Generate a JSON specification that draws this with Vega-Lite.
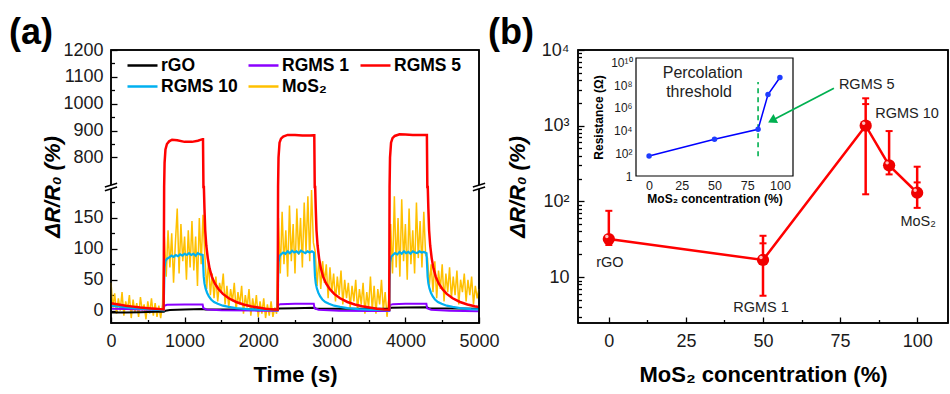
{
  "$schema": "https://vega.github.io/schema/vega-lite/v6.json",
  "background": "white",
  "padding": {"left": 8, "top": 14, "right": 3, "bottom": 5},
  "bounds": "flush",
  "spacing": 99,
  "resolve": {"scale": {"color": "independent"}, "legend": {"color": "independent"}},
  "datasets": {
    "rgo": [{"t":0,"v":-3},{"t":200,"v":-3},{"t":400,"v":-2.5},{"t":600,"v":-2},{"t":718,"v":-2},{"t":740,"v":0},{"t":800,"v":1},{"t":1000,"v":2},{"t":1250,"v":2.5},{"t":1280,"v":2},{"t":1500,"v":2},{"t":2000,"v":2},{"t":2265,"v":2},{"t":2285,"v":3.5},{"t":2500,"v":4},{"t":2760,"v":4.5},{"t":2790,"v":3},{"t":3200,"v":3},{"t":3783,"v":3},{"t":3805,"v":4.5},{"t":4000,"v":5},{"t":4290,"v":5.5},{"t":4320,"v":4},{"t":4700,"v":3.5},{"t":5000,"v":3}],
    "rgms1": [{"t":0,"v":3},{"t":200,"v":2.5},{"t":400,"v":2},{"t":600,"v":1.5},{"t":715,"v":1},{"t":725,"v":8},{"t":760,"v":9.5},{"t":1000,"v":10},{"t":1245,"v":10},{"t":1255,"v":4},{"t":1300,"v":2},{"t":1500,"v":0.5},{"t":2000,"v":0},{"t":2262,"v":0},{"t":2272,"v":9},{"t":2300,"v":10.5},{"t":2500,"v":11},{"t":2755,"v":11},{"t":2765,"v":4},{"t":2820,"v":1.5},{"t":3100,"v":0},{"t":3500,"v":-0.5},{"t":3782,"v":-0.5},{"t":3792,"v":9},{"t":3830,"v":10.5},{"t":4000,"v":11},{"t":4285,"v":11},{"t":4295,"v":4},{"t":4350,"v":1.5},{"t":4600,"v":0},{"t":5000,"v":-1}],
    "rgms5": [{"t":0,"v":12},{"t":100,"v":10},{"t":200,"v":8},{"t":300,"v":6.5},{"t":400,"v":5},{"t":500,"v":4},{"t":600,"v":3},{"t":715,"v":2},{"t":722,"v":400},{"t":728,"v":780},{"t":740,"v":830},{"t":760,"v":850},{"t":790,"v":860},{"t":830,"v":866},{"t":900,"v":864},{"t":1000,"v":858},{"t":1100,"v":858},{"t":1180,"v":862},{"t":1245,"v":868},{"t":1250,"v":868},{"t":1256,"v":500},{"t":1262,"v":230},{"t":1270,"v":165},{"t":1280,"v":130},{"t":1295,"v":105},{"t":1315,"v":85},{"t":1340,"v":68},{"t":1370,"v":55},{"t":1410,"v":44},{"t":1460,"v":35},{"t":1520,"v":27},{"t":1600,"v":20},{"t":1700,"v":14},{"t":1800,"v":10},{"t":1900,"v":7},{"t":2000,"v":5},{"t":2100,"v":3},{"t":2200,"v":2},{"t":2265,"v":1.5},{"t":2270,"v":400},{"t":2276,"v":800},{"t":2290,"v":855},{"t":2310,"v":870},{"t":2340,"v":878},{"t":2400,"v":884},{"t":2500,"v":884},{"t":2600,"v":882},{"t":2700,"v":882},{"t":2755,"v":883},{"t":2762,"v":883},{"t":2768,"v":500},{"t":2774,"v":230},{"t":2782,"v":165},{"t":2792,"v":130},{"t":2807,"v":105},{"t":2827,"v":85},{"t":2852,"v":68},{"t":2882,"v":55},{"t":2922,"v":44},{"t":2972,"v":35},{"t":3032,"v":27},{"t":3112,"v":20},{"t":3212,"v":14},{"t":3312,"v":10},{"t":3412,"v":7},{"t":3512,"v":5},{"t":3612,"v":3},{"t":3712,"v":2},{"t":3780,"v":1.5},{"t":3785,"v":400},{"t":3791,"v":800},{"t":3805,"v":855},{"t":3825,"v":872},{"t":3855,"v":880},{"t":3920,"v":886},{"t":4000,"v":885},{"t":4100,"v":884},{"t":4200,"v":884},{"t":4285,"v":884},{"t":4292,"v":884},{"t":4298,"v":500},{"t":4304,"v":230},{"t":4312,"v":165},{"t":4322,"v":130},{"t":4337,"v":105},{"t":4357,"v":85},{"t":4382,"v":68},{"t":4412,"v":55},{"t":4452,"v":44},{"t":4502,"v":35},{"t":4562,"v":27},{"t":4642,"v":20},{"t":4742,"v":14},{"t":4842,"v":10},{"t":4942,"v":7},{"t":5000,"v":6}],
    "rgms10": [{"t":0,"v":8},{"t":150,"v":6},{"t":300,"v":4},{"t":450,"v":3},{"t":600,"v":1.5},{"t":715,"v":0.5},{"t":722,"v":40},{"t":728,"v":70},{"t":740,"v":80},{"t":760,"v":84},{"t":790,"v":86},{"t":820,"v":89},{"t":850,"v":87},{"t":880,"v":90},{"t":910,"v":88},{"t":940,"v":91},{"t":970,"v":89},{"t":1000,"v":92},{"t":1030,"v":90},{"t":1060,"v":93},{"t":1090,"v":90},{"t":1120,"v":92},{"t":1150,"v":89},{"t":1180,"v":93},{"t":1210,"v":91},{"t":1245,"v":90},{"t":1252,"v":75},{"t":1260,"v":55},{"t":1270,"v":44},{"t":1285,"v":36},{"t":1305,"v":29},{"t":1330,"v":23},{"t":1360,"v":18},{"t":1400,"v":14},{"t":1450,"v":11},{"t":1520,"v":8},{"t":1600,"v":6},{"t":1700,"v":4},{"t":1850,"v":2.5},{"t":2000,"v":1.5},{"t":2150,"v":1},{"t":2265,"v":0.5},{"t":2270,"v":50},{"t":2276,"v":78},{"t":2290,"v":88},{"t":2310,"v":91},{"t":2340,"v":94},{"t":2370,"v":92},{"t":2400,"v":96},{"t":2430,"v":93},{"t":2460,"v":97},{"t":2490,"v":94},{"t":2520,"v":96},{"t":2550,"v":93},{"t":2580,"v":97},{"t":2610,"v":95},{"t":2640,"v":93},{"t":2670,"v":96},{"t":2700,"v":94},{"t":2730,"v":96},{"t":2757,"v":94},{"t":2764,"v":75},{"t":2772,"v":55},{"t":2782,"v":44},{"t":2797,"v":36},{"t":2817,"v":29},{"t":2842,"v":23},{"t":2872,"v":18},{"t":2912,"v":14},{"t":2962,"v":11},{"t":3032,"v":8},{"t":3112,"v":6},{"t":3212,"v":4},{"t":3362,"v":2.5},{"t":3512,"v":1.5},{"t":3662,"v":1},{"t":3782,"v":0.5},{"t":3787,"v":50},{"t":3793,"v":78},{"t":3807,"v":87},{"t":3830,"v":90},{"t":3860,"v":93},{"t":3890,"v":91},{"t":3920,"v":95},{"t":3950,"v":92},{"t":3980,"v":96},{"t":4010,"v":93},{"t":4040,"v":95},{"t":4070,"v":92},{"t":4100,"v":96},{"t":4130,"v":94},{"t":4160,"v":93},{"t":4190,"v":96},{"t":4220,"v":94},{"t":4250,"v":95},{"t":4287,"v":93},{"t":4294,"v":75},{"t":4302,"v":55},{"t":4312,"v":44},{"t":4327,"v":36},{"t":4347,"v":29},{"t":4372,"v":23},{"t":4402,"v":18},{"t":4442,"v":14},{"t":4492,"v":11},{"t":4562,"v":8},{"t":4642,"v":6},{"t":4742,"v":4},{"t":4892,"v":2.5},{"t":5000,"v":2}],
    "mos2": [{"t":0,"v":45},{"t":25,"v":5},{"t":50,"v":28},{"t":75,"v":-5},{"t":100,"v":20},{"t":125,"v":0},{"t":150,"v":30},{"t":175,"v":-8},{"t":200,"v":15},{"t":225,"v":2},{"t":250,"v":25},{"t":275,"v":-12},{"t":300,"v":18},{"t":325,"v":-3},{"t":350,"v":12},{"t":375,"v":-10},{"t":400,"v":22},{"t":425,"v":0},{"t":450,"v":10},{"t":475,"v":-14},{"t":500,"v":15},{"t":525,"v":-5},{"t":550,"v":20},{"t":575,"v":-8},{"t":600,"v":12},{"t":625,"v":-10},{"t":650,"v":8},{"t":675,"v":-12},{"t":700,"v":10},
      {"t":725,"v":120},{"t":750,"v":55},{"t":775,"v":130},{"t":800,"v":70},{"t":825,"v":125},{"t":850,"v":45},{"t":875,"v":110},{"t":900,"v":165},{"t":925,"v":60},{"t":950,"v":140},{"t":975,"v":80},{"t":1000,"v":120},{"t":1025,"v":50},{"t":1050,"v":130},{"t":1075,"v":70},{"t":1100,"v":145},{"t":1125,"v":65},{"t":1150,"v":120},{"t":1175,"v":40},{"t":1200,"v":150},{"t":1225,"v":75},{"t":1250,"v":155},
      {"t":1275,"v":90},{"t":1300,"v":35},{"t":1325,"v":80},{"t":1350,"v":25},{"t":1375,"v":60},{"t":1400,"v":20},{"t":1425,"v":55},{"t":1450,"v":15},{"t":1475,"v":45},{"t":1500,"v":30},{"t":1525,"v":60},{"t":1550,"v":10},{"t":1575,"v":40},{"t":1600,"v":5},{"t":1625,"v":35},{"t":1650,"v":15},{"t":1675,"v":45},{"t":1700,"v":0},{"t":1725,"v":30},{"t":1750,"v":10},{"t":1775,"v":40},{"t":1800,"v":-5},{"t":1825,"v":25},{"t":1850,"v":5},{"t":1875,"v":35},{"t":1900,"v":-8},{"t":1925,"v":20},{"t":1950,"v":0},{"t":1975,"v":25},{"t":2000,"v":-10},{"t":2025,"v":15},{"t":2050,"v":-5},{"t":2075,"v":20},{"t":2100,"v":-12},{"t":2125,"v":10},{"t":2150,"v":-8},{"t":2175,"v":15},{"t":2200,"v":-10},{"t":2225,"v":5},{"t":2250,"v":-5},
      {"t":2275,"v":150},{"t":2300,"v":60},{"t":2325,"v":160},{"t":2350,"v":75},{"t":2375,"v":130},{"t":2400,"v":55},{"t":2425,"v":170},{"t":2450,"v":80},{"t":2475,"v":140},{"t":2500,"v":60},{"t":2525,"v":165},{"t":2550,"v":90},{"t":2575,"v":150},{"t":2600,"v":70},{"t":2625,"v":175},{"t":2650,"v":95},{"t":2675,"v":185},{"t":2700,"v":80},{"t":2725,"v":195},{"t":2750,"v":110},
      {"t":2775,"v":95},{"t":2800,"v":40},{"t":2825,"v":85},{"t":2850,"v":35},{"t":2875,"v":80},{"t":2900,"v":45},{"t":2925,"v":75},{"t":2950,"v":20},{"t":2975,"v":70},{"t":3000,"v":30},{"t":3025,"v":60},{"t":3050,"v":15},{"t":3075,"v":55},{"t":3100,"v":25},{"t":3125,"v":65},{"t":3150,"v":10},{"t":3175,"v":50},{"t":3200,"v":20},{"t":3225,"v":45},{"t":3250,"v":5},{"t":3275,"v":40},{"t":3300,"v":15},{"t":3325,"v":50},{"t":3350,"v":0},{"t":3375,"v":35},{"t":3400,"v":10},{"t":3425,"v":45},{"t":3450,"v":-5},{"t":3475,"v":30},{"t":3500,"v":5},{"t":3525,"v":55},{"t":3550,"v":0},{"t":3575,"v":40},{"t":3600,"v":-5},{"t":3625,"v":35},{"t":3650,"v":10},{"t":3675,"v":50},{"t":3700,"v":0},{"t":3725,"v":30},{"t":3750,"v":-10},{"t":3775,"v":20},
      {"t":3800,"v":140},{"t":3825,"v":60},{"t":3850,"v":185},{"t":3875,"v":70},{"t":3900,"v":150},{"t":3925,"v":55},{"t":3950,"v":180},{"t":3975,"v":80},{"t":4000,"v":140},{"t":4025,"v":50},{"t":4050,"v":165},{"t":4075,"v":75},{"t":4100,"v":130},{"t":4125,"v":60},{"t":4150,"v":175},{"t":4175,"v":85},{"t":4200,"v":145},{"t":4225,"v":70},{"t":4250,"v":160},{"t":4275,"v":90},
      {"t":4300,"v":85},{"t":4325,"v":40},{"t":4350,"v":75},{"t":4375,"v":30},{"t":4400,"v":80},{"t":4425,"v":20},{"t":4450,"v":65},{"t":4475,"v":35},{"t":4500,"v":75},{"t":4525,"v":15},{"t":4550,"v":60},{"t":4575,"v":30},{"t":4600,"v":70},{"t":4625,"v":20},{"t":4650,"v":55},{"t":4675,"v":25},{"t":4700,"v":65},{"t":4725,"v":10},{"t":4750,"v":50},{"t":4775,"v":30},{"t":4800,"v":60},{"t":4825,"v":15},{"t":4850,"v":50},{"t":4875,"v":25},{"t":4900,"v":55},{"t":4925,"v":10},{"t":4950,"v":40},{"t":4975,"v":20},{"t":5000,"v":35}],
    "pts": [
      {"name":"rGO","c":0,"y":31.8,"lo":26.5,"hi":75},
      {"name":"RGMS 1","c":50,"y":16.8,"lo":5.66,"hi":35.1,"hi2":27.9},
      {"name":"RGMS 5","c":83.3,"y":1000,"lo":124,"hi":2300,"hi2":1930},
      {"name":"RGMS 10","c":90.9,"y":299,"lo":227,"hi":849},
      {"name":"MoS₂","c":100,"y":130,"lo":82,"hi":287,"hi2":178}
    ],
    "res": [
      {"c":0,"r":58},
      {"c":50,"r":1740},
      {"c":83.3,"r":13000},
      {"c":90.9,"r":15000000},
      {"c":100,"r":480000000}
    ]
  },
  "hconcat": [
    {
      "width": 368,
      "height": 273,
      "view": {"stroke": "#000", "strokeWidth": 1.5},
      "title": {"text": "(a)", "anchor": "start", "frame": "group", "dx": -102, "dy": 47, "offset": 0, "baseline": "bottom", "fontSize": 36, "fontWeight": "bold", "font": "Liberation Sans", "color": "#000"},
      "encoding": {
        "x": {"field": "t", "type": "quantitative", "scale": {"domain": [0, 5000], "nice": false, "zero": false}, "axis": null},
        "y": {"field": "v", "type": "quantitative", "scale": {"domain": [-20, 200, 690, 1200], "range": [273, 137, 137, 0], "nice": false, "zero": false}, "axis": null}
      },
      "layer": [
        {
          "data": {"name": "mos2"},
          "mark": {"type": "line", "strokeWidth": 1.5},
          "encoding": {
            "x": {"field": "t", "type": "quantitative", "scale": {"domain": [0, 5000], "nice": false, "zero": false},
              "axis": {"orient": "bottom", "values": [0, 1000, 2000, 3000, 4000, 5000], "format": "d", "title": "Time (s)", "titlePadding": 14, "labelPadding": 15, "tickSize": -6}},
            "y": {"field": "v", "type": "quantitative", "scale": {"domain": [-20, 200, 690, 1200], "range": [273, 137, 137, 0], "nice": false, "zero": false},
              "axis": {"orient": "left", "values": [0, 50, 100, 150, 800, 900, 1000, 1100, 1200], "format": "d", "title": "ΔR/R₀ (%)", "titleFontStyle": "italic", "titlePadding": -2, "labelPadding": 14, "tickSize": -6}},
            "color": {"datum": "MoS₂", "type": "nominal",
              "scale": {"domain": ["rGO", "RGMS 10", "RGMS 1", "MoS₂", "RGMS 5"], "range": ["#000000", "#00B0F0", "#8B00FF", "#FFC000", "#FF0000"]},
              "legend": {"title": null, "orient": "none", "legendX": 15, "legendY": 7, "columns": 3, "gridAlign": "each", "columnPadding": 9, "rowPadding": 3, "clipHeight": 17, "symbolType": "stroke", "symbolSize": 900, "symbolStrokeWidth": 2.5, "labelFont": "Liberation Sans", "labelFontSize": 17.5, "labelFontWeight": "bold", "labelColor": "#000", "labelOffset": 2, "padding": 0, "labelLimit": 200}}
          }
        },
        {
          "data": {"name": "rgo"},
          "mark": {"type": "line", "strokeWidth": 2},
          "encoding": {
            "x": {"field": "t", "type": "quantitative", "scale": {"domain": [0, 5000], "nice": false, "zero": false},
              "axis": {"orient": "bottom", "values": [500, 1500, 2500, 3500, 4500], "labels": false, "title": null, "tickSize": -3.5}},
            "y": {"field": "v", "type": "quantitative", "scale": {"domain": [-20, 200, 690, 1200], "range": [273, 137, 137, 0], "nice": false, "zero": false},
              "axis": {"orient": "left", "values": [25, 75, 125, 175, 850, 950, 1050, 1150], "labels": false, "title": null, "tickSize": -3.5}},
            "color": {"datum": "rGO", "type": "nominal"}
          }
        },
        {
          "data": {"name": "rgms1"},
          "mark": {"type": "line", "strokeWidth": 2},
          "encoding": {"color": {"datum": "RGMS 1", "type": "nominal"}}
        },
        {
          "data": {"name": "rgms10"},
          "mark": {"type": "line", "strokeWidth": 2.2},
          "encoding": {"color": {"datum": "RGMS 10", "type": "nominal"}}
        },
        {
          "data": {"name": "rgms5"},
          "mark": {"type": "line", "strokeWidth": 2.5},
          "encoding": {"color": {"datum": "RGMS 5", "type": "nominal"}}
        },
        {
          "data": {"values": [{"t": 0, "t2": 5000, "v": -20, "v2": 1200}]},
          "mark": {"type": "rect", "fill": "transparent", "stroke": "#000", "strokeWidth": 1.5},
          "encoding": {"x2": {"field": "t2"}, "y2": {"field": "v2"}}
        },
        {
          "data": {"values": [{"t": 0, "v": 445}, {"t": 5000, "v": 445}]},
          "mark": {"type": "point", "shape": "M-1,0L1,-0.6L1,0L-1,0.6Z", "filled": true, "fill": "white", "strokeWidth": 0, "size": 150, "opacity": 1}
        },
        {
          "data": {"values": [{"t": 0, "v": 445}, {"t": 5000, "v": 445}]},
          "mark": {"type": "point", "shape": "M-1,0L1,-0.6M-1,0.6L1,0", "filled": false, "stroke": "#000", "strokeWidth": 1.5, "size": 150, "opacity": 1}
        }
      ],
      "resolve": {"scale": {"x": "independent", "y": "independent"}}
    },
    {
      "width": 370,
      "height": 273,
      "view": {"stroke": "#000", "strokeWidth": 1.5},
      "title": {"text": "(b)", "anchor": "start", "frame": "group", "dx": -90, "dy": 47, "offset": 0, "baseline": "bottom", "fontSize": 36, "fontWeight": "bold", "font": "Liberation Sans", "color": "#000"},
      "encoding": {
        "x": {"field": "c", "type": "quantitative", "scale": {"domain": [-10, 110], "nice": false, "zero": false}, "axis": null},
        "y": {"field": "y", "type": "quantitative", "scale": {"type": "log", "domain": [2.47, 10000], "nice": false}, "axis": null}
      },
      "layer": [
        {
          "data": {"name": "pts"},
          "mark": {"type": "line", "color": "#FF0000", "strokeWidth": 2.5},
          "encoding": {
            "x": {"field": "c", "type": "quantitative", "scale": {"domain": [-10, 110], "nice": false, "zero": false},
              "axis": {"orient": "bottom", "values": [0, 25, 50, 75, 100], "format": "d", "title": "MoS₂ concentration (%)", "titlePadding": 14, "labelPadding": 15, "tickSize": -6}},
            "y": {"field": "y", "type": "quantitative", "scale": {"type": "log", "domain": [2.47, 10000], "nice": false},
              "axis": {"orient": "left", "values": [10, 100, 1000, 10000], "labelExpr": "datum.value >= 9999 ? '10⁴' : datum.value >= 999 ? '10³' : datum.value >= 99 ? '10²' : '10'", "title": "ΔR/R₀ (%)", "titleFontStyle": "italic", "titlePadding": 12, "labelPadding": 15, "tickSize": -6}}
          }
        },
        {
          "data": {"name": "pts"},
          "mark": {"type": "point", "opacity": 0},
          "encoding": {
            "x": {"field": "c", "type": "quantitative", "scale": {"domain": [-10, 110], "nice": false, "zero": false},
              "axis": {"orient": "bottom", "values": [12.5, 37.5, 62.5, 87.5], "labels": false, "title": null, "tickSize": -3.5}},
            "y": {"field": "y", "type": "quantitative", "scale": {"type": "log", "domain": [2.47, 10000], "nice": false},
              "axis": {"orient": "left", "values": [3, 4, 5, 6, 7, 8, 9, 20, 30, 40, 50, 60, 70, 80, 90, 200, 300, 400, 500, 600, 700, 800, 900, 2000, 3000, 4000, 5000, 6000, 7000, 8000, 9000], "labels": false, "title": null, "tickSize": -3.5}}
          }
        },
        {
          "data": {"values": [{"c": -10, "c2": 110, "y": 2.47, "y2": 10000}]},
          "mark": {"type": "rect", "fill": "transparent", "stroke": "#000", "strokeWidth": 1.5},
          "encoding": {"x2": {"field": "c2"}, "y2": {"field": "y2"}}
        },
        {
          "data": {"name": "pts"},
          "mark": {"type": "rule", "color": "#FF0000", "strokeWidth": 2.5},
          "encoding": {
            "y": {"field": "lo", "type": "quantitative", "scale": {"type": "log", "domain": [2.47, 10000], "nice": false}, "axis": null},
            "y2": {"field": "hi"}
          }
        },
        {
          "data": {"name": "pts"},
          "mark": {"type": "point", "shape": "stroke", "color": "#FF0000", "strokeWidth": 2, "size": 49, "opacity": 1},
          "encoding": {"y": {"field": "hi", "type": "quantitative", "scale": {"type": "log", "domain": [2.47, 10000], "nice": false}, "axis": null}}
        },
        {
          "data": {"name": "pts"},
          "mark": {"type": "point", "shape": "stroke", "color": "#FF0000", "strokeWidth": 2, "size": 49, "opacity": 1},
          "encoding": {"y": {"field": "lo", "type": "quantitative", "scale": {"type": "log", "domain": [2.47, 10000], "nice": false}, "axis": null}}
        },
        {
          "data": {"name": "pts"},
          "transform": [{"filter": "isValid(datum.hi2)"}],
          "mark": {"type": "point", "shape": "stroke", "color": "#FF0000", "strokeWidth": 2, "size": 49, "opacity": 1},
          "encoding": {"y": {"field": "hi2", "type": "quantitative", "scale": {"type": "log", "domain": [2.47, 10000], "nice": false}, "axis": null}}
        },
        {
          "data": {"name": "pts"},
          "mark": {"type": "point", "shape": "circle", "filled": true, "color": "#F00000", "size": 150, "opacity": 1}
        },
        {
          "data": {"name": "pts"},
          "mark": {"type": "point", "shape": "circle", "filled": true, "color": "#FFC0C0", "size": 12, "opacity": 1, "xOffset": -2, "yOffset": -2.5}
        },
        {
          "data": {"name": "pts"},
          "transform": [{"filter": "datum.name == 'rGO'"}],
          "mark": {"type": "text", "font": "Liberation Sans", "fontSize": 14.5, "color": "#222", "align": "center", "baseline": "middle", "dx": 1, "dy": 24},
          "encoding": {"text": {"field": "name"}}
        },
        {
          "data": {"name": "pts"},
          "transform": [{"filter": "datum.name == 'RGMS 1'"}],
          "mark": {"type": "text", "font": "Liberation Sans", "fontSize": 14.5, "color": "#222", "align": "center", "baseline": "middle", "dx": -2, "dy": 48},
          "encoding": {"text": {"field": "name"}}
        },
        {
          "data": {"name": "pts"},
          "transform": [{"filter": "datum.name == 'RGMS 5'"}],
          "mark": {"type": "text", "font": "Liberation Sans", "fontSize": 14.5, "color": "#222", "align": "center", "baseline": "middle", "dx": 1, "dy": -41},
          "encoding": {"text": {"field": "name"}}
        },
        {
          "data": {"name": "pts"},
          "transform": [{"filter": "datum.name == 'RGMS 10'"}],
          "mark": {"type": "text", "font": "Liberation Sans", "fontSize": 14.5, "color": "#222", "align": "center", "baseline": "middle", "dx": 18, "dy": -51},
          "encoding": {"text": {"field": "name"}}
        },
        {
          "data": {"name": "pts"},
          "transform": [{"filter": "datum.name == 'MoS₂'"}],
          "mark": {"type": "text", "font": "Liberation Sans", "fontSize": 14.5, "color": "#222", "align": "center", "baseline": "middle", "dx": 1, "dy": 29},
          "encoding": {"text": {"field": "name"}}
        },
        {
          "data": {"values": [{"c": -10, "c2": 110, "r": 1, "r2": 25000000000}]},
          "mark": {"type": "rect", "fill": "white", "stroke": "#000", "strokeWidth": 1.2},
          "encoding": {
            "x": {"field": "c", "type": "quantitative", "scale": {"domain": [-10, 110], "range": [58, 215], "nice": false, "zero": false}, "axis": null},
            "x2": {"field": "c2"},
            "y": {"field": "r", "type": "quantitative", "scale": {"type": "log", "domain": [1, 25000000000], "range": [126, 8], "nice": false}, "axis": null},
            "y2": {"field": "r2"}
          }
        },
        {
          "data": {"values": [{"c": 83.3, "r": 55, "r2": 190000000}]},
          "mark": {"type": "rule", "color": "#00B050", "strokeWidth": 1.6, "strokeDash": [5, 4]},
          "encoding": {
            "x": {"field": "c", "type": "quantitative", "scale": {"domain": [-10, 110], "range": [58, 215], "nice": false, "zero": false}, "axis": null},
            "y": {"field": "r", "type": "quantitative", "scale": {"type": "log", "domain": [1, 25000000000], "range": [126, 8], "nice": false}, "axis": null},
            "y2": {"field": "r2"}
          }
        },
        {
          "data": {"name": "res"},
          "mark": {"type": "line", "color": "#0000FF", "strokeWidth": 1.5},
          "encoding": {
            "x": {"field": "c", "type": "quantitative", "scale": {"domain": [-10, 110], "range": [58, 215], "nice": false, "zero": false},
              "axis": {"orient": "bottom", "offset": -147, "values": [0, 25, 50, 75, 100], "format": "d", "ticks": false, "labelFontSize": 12.5, "labelPadding": 3, "title": "MoS₂ concentration (%)", "titleFontSize": 12, "titlePadding": 2}},
            "y": {"field": "r", "type": "quantitative", "scale": {"type": "log", "domain": [1, 25000000000], "range": [126, 8], "nice": false},
              "axis": {"orient": "left", "offset": -58, "values": [1, 100, 10000, 1000000, 100000000, 10000000000], "labelExpr": "datum.value >= 1000000000 ? '10¹⁰' : datum.value >= 10000000 ? '10⁸' : datum.value >= 100000 ? '10⁶' : datum.value >= 1000 ? '10⁴' : datum.value >= 10 ? '10²' : '1'", "ticks": false, "labelFontSize": 12, "labelPadding": 4, "title": "Resistance (Ω)", "titleFontSize": 12, "titlePadding": 5}}
          }
        },
        {
          "data": {"name": "res"},
          "mark": {"type": "point", "shape": "circle", "filled": true, "color": "#1E3CFF", "size": 30, "opacity": 1},
          "encoding": {
            "x": {"field": "c", "type": "quantitative", "scale": {"domain": [-10, 110], "range": [58, 215], "nice": false, "zero": false}, "axis": null},
            "y": {"field": "r", "type": "quantitative", "scale": {"type": "log", "domain": [1, 25000000000], "range": [126, 8], "nice": false}, "axis": null}
          }
        },
        {
          "data": {"values": [{"c": 41, "r": 1260000000, "label": "Percolation"}, {"c": 38.2, "r": 27000000, "label": "threshold"}]},
          "mark": {"type": "text", "font": "Liberation Sans", "fontSize": 16, "color": "#222", "align": "center", "baseline": "middle"},
          "encoding": {
            "x": {"field": "c", "type": "quantitative", "scale": {"domain": [-10, 110], "range": [58, 215], "nice": false, "zero": false}, "axis": null},
            "y": {"field": "r", "type": "quantitative", "scale": {"type": "log", "domain": [1, 25000000000], "range": [126, 8], "nice": false}, "axis": null},
            "text": {"field": "label"}
          }
        },
        {
          "data": {"values": [{"c": 73, "y": 3117, "c2": 52.9, "y2": 1173}]},
          "mark": {"type": "rule", "color": "#00B050", "strokeWidth": 1.8},
          "encoding": {"x2": {"field": "c2"}, "y2": {"field": "y2"}}
        },
        {
          "data": {"values": [{"c": 52.9, "y": 1173}]},
          "mark": {"type": "point", "shape": "triangle-right", "angle": 152.6, "filled": true, "color": "#00B050", "size": 100, "opacity": 1}
        }
      ],
      "resolve": {"scale": {"x": "independent", "y": "independent"}}
    }
  ],
  "config": {
    "font": "Liberation Sans",
    "view": {"stroke": "#000", "strokeWidth": 1.5},
    "axis": {"domain": false, "grid": false, "labelFlush": false, "labelFont": "Liberation Sans", "labelFontSize": 18, "labelColor": "#1a1a1a", "titleFont": "Liberation Sans", "titleFontSize": 22, "titleFontWeight": "bold", "titleColor": "#000", "tickColor": "#000", "tickWidth": 1.3}
  }
}
